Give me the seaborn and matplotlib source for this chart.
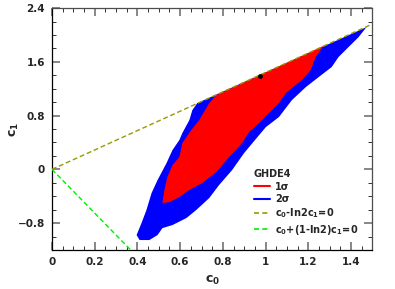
import numpy as np
import matplotlib
matplotlib.use("Agg")
import matplotlib.pyplot as plt
import seaborn as sns
from matplotlib.ticker import MultipleLocator
from matplotlib.lines import Line2D

# 2 sigma region boundary (c0, c1)
c0_2sig = [0.680, 1.472, 1.435, 1.388, 1.341, 1.309, 1.248, 1.188, 1.123, 1.062,
           1.001, 0.946, 0.899, 0.843, 0.782, 0.736, 0.675, 0.629, 0.564, 0.517,
           0.494, 0.456, 0.410, 0.396, 0.419, 0.442, 0.466, 0.494, 0.536, 0.564,
           0.596, 0.610, 0.643, 0.657]
c1_2sig = [0.986, 2.117, 1.968, 1.820, 1.671, 1.522, 1.373, 1.224, 1.031, 0.778,
           0.629, 0.421, 0.242, -0.011, -0.234, -0.427, -0.606, -0.725, -0.829, -0.874,
           -0.978, -1.052, -1.052, -0.978, -0.799, -0.606, -0.353, -0.160, 0.093, 0.287,
           0.436, 0.540, 0.733, 0.882]

# 1 sigma region boundary
c0_1sig = [0.769, 1.272, 1.234, 1.211, 1.169, 1.095, 1.062, 1.015, 0.969, 0.922,
           0.890, 0.829, 0.769, 0.703, 0.643, 0.596, 0.550, 0.517, 0.526, 0.540,
           0.564, 0.596, 0.610, 0.652, 0.689, 0.736]
c1_1sig = [1.105, 1.840, 1.671, 1.477, 1.329, 1.135, 0.986, 0.838, 0.689, 0.555,
           0.391, 0.183, -0.040, -0.204, -0.308, -0.413, -0.487, -0.502, -0.308, -0.115,
           0.064, 0.183, 0.391, 0.585, 0.733, 0.986]

# best fit point
best_c0 = [0.972]
best_c1 = [1.39]

# boundary lines
ln2 = np.log(2)
x_line1 = np.array([0.0, 1.5])
y_line1 = x_line1 / ln2
x_line2 = np.array([0.0, 0.4])
y_line2 = -x_line2 / (1 - ln2)

sns.set_style("ticks")
plt.rcParams["font.family"] = ["DejaVu Sans"]
plt.rcParams["font.weight"] = "bold"

fig = plt.figure(figsize=(3.95, 2.89), dpi=100)
ax = fig.add_axes([0.1316, 0.135, 0.8114, 0.837])

ax.fill(c0_2sig, c1_2sig, color="#0000ff", lw=0, zorder=1)
ax.fill(c0_1sig, c1_1sig, color="#ff0000", lw=0, zorder=2)
sns.scatterplot(x=best_c0, y=best_c1, color="k", s=12, marker="o", linewidth=0, ax=ax, zorder=4)

sns.lineplot(x=x_line1, y=y_line1, color="#999900", lw=1.0, ls=(0, (3.5, 2)), ax=ax, zorder=3)
sns.lineplot(x=x_line2, y=y_line2, color="#00ee00", lw=1.0, ls=(0, (3.5, 2)), ax=ax, zorder=3)

ax.set_xlim(0, 1.5)
ax.set_ylim(-1.2, 2.4)
ax.xaxis.set_minor_locator(MultipleLocator(0.05))
ax.yaxis.set_minor_locator(MultipleLocator(0.2))
ax.set_xticks([0, 0.2, 0.4, 0.6, 0.8, 1.0, 1.2, 1.4])
ax.set_xticklabels(["0", "0.2", "0.4", "0.6", "0.8", "1", "1.2", "1.4"])
ax.set_yticks([-0.8, 0, 0.8, 1.6, 2.4])
ax.set_yticklabels(["\u22120.8", "0", "0.8", "1.6", "2.4"])

ax.tick_params(which="both", direction="in", top=True, right=True, labelsize=7.5)
ax.tick_params(which="major", length=5.5, width=1.2, color="0.45", pad=5)
ax.tick_params(which="minor", length=3, width=0.7, color="0.2")
for lab in ax.get_xticklabels() + ax.get_yticklabels():
    lab.set_fontweight("bold")
for sp in ax.spines.values():
    sp.set_linewidth(0.9)
    sp.set_color("0.3")
ax.spines["left"].set_color("k")
ax.spines["bottom"].set_color("k")

ax.set_xlabel("c$_\\mathbf{0}$", fontsize=9, fontweight="bold", labelpad=5)
ax.set_ylabel("c$_\\mathbf{1}$", fontsize=9, fontweight="bold", labelpad=-2)

handles = [
    Line2D([], [], color="#ff0000", lw=1.5),
    Line2D([], [], color="#0000ff", lw=1.5),
    Line2D([], [], color="#999900", lw=1.2, ls=(0, (3, 2))),
    Line2D([], [], color="#00ee00", lw=1.2, ls=(0, (3, 2))),
]
labels = ["1\u03c3", "2\u03c3", "c$_\\mathbf{0}$-ln2c$_\\mathbf{1}$=0",
          "c$_\\mathbf{0}$+(1-ln2)c$_\\mathbf{1}$=0"]
leg = ax.legend(handles, labels, title="GHDE4", loc="lower right",
                bbox_to_anchor=(0.975, 0.03), frameon=False, fontsize=7,
                title_fontproperties={"weight": "bold", "size": 7},
                handlelength=1.6, handletextpad=0.6, labelspacing=0.25,
                alignment="left", borderaxespad=0.2)
for t in leg.get_texts():
    t.set_fontweight("bold")

fig.savefig("out.png", dpi=100)
